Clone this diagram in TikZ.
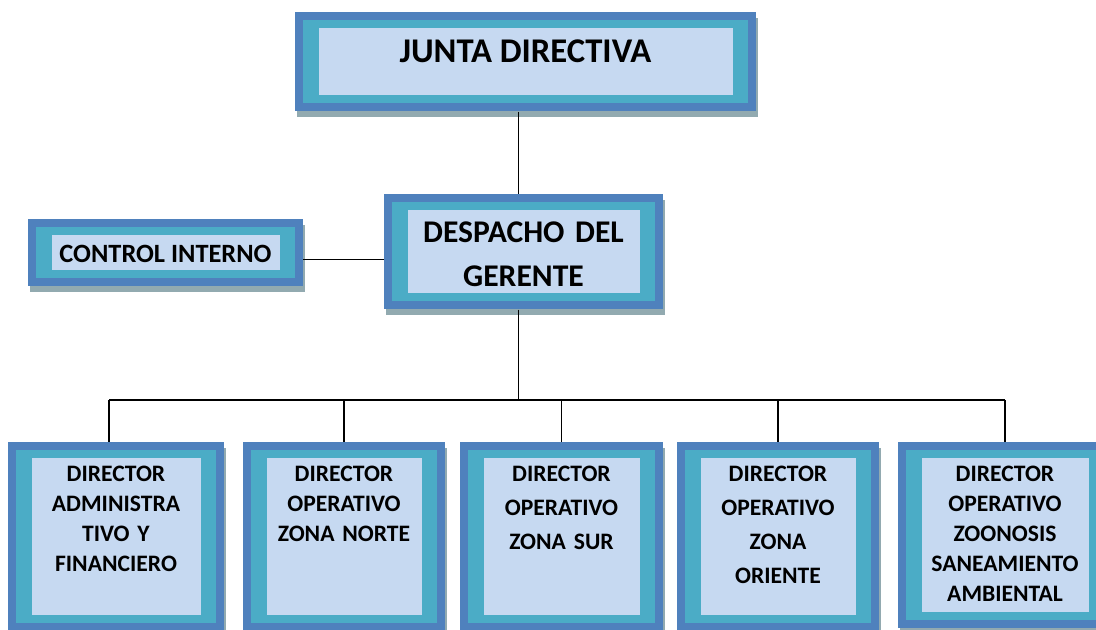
\documentclass[tikz,border=0pt]{standalone}
\usepackage{fontspec}
\setmainfont{Carlito}
\usetikzlibrary{calc,shadows}
\definecolor{frameblue}{RGB}{79,129,189}
\definecolor{frameteal}{RGB}{75,172,198}
\definecolor{boxfill}{RGB}{198,217,241}
\definecolor{shadowgrey}{RGB}{146,170,176}
\tikzset{
    orgbox/.style={fill=frameblue, inner sep=0pt, align=center, anchor=north,
        drop shadow={shadow xshift=1.5pt, shadow yshift=-4.5pt, opacity=1, fill=shadowgrey},
        path picture={
            \fill[frameteal] ($(path picture bounding box.north west)+(8,8)$)
                rectangle ($(path picture bounding box.south east)+(-8,-8)$);
            \fill[boxfill] ($(path picture bounding box.north west)+(23.5,16)$)
                rectangle ($(path picture bounding box.south east)+(-23.5,-16)$);
        }},
    topfont/.style={font=\bfseries\fontsize{26pt}{31pt}\selectfont},
    midfont/.style={font=\bfseries\fontsize{23.7pt}{33pt}\selectfont},
    ctrlfont/.style={font=\bfseries\fontsize{19.8pt}{24pt}\selectfont},
    dirfont/.style={font=\bfseries\fontsize{17.7pt}{22.5pt}\selectfont},
    dirwide/.style={font=\bfseries\fontsize{17.7pt}{25.5pt}\selectfont},
    director/.style={orgbox, dirfont, text width=135pt, text height=29.25pt, text depth=112.5pt},
    link/.style={draw=black, line width=1.3pt},
}

\begin{document}
\begin{tikzpicture}[x=0.75pt, y=-0.75pt]
\path[use as bounding box, clip] (0,0) rectangle (1096,630);
\fill[white] (0,0) rectangle (1096,630);
% upper levels
\node[orgbox, topfont, minimum width=345.75pt, text height=37.5pt, text depth=36.75pt] (junta) at (525.5,12) {JUNTA DIRECTIVA};
\node[orgbox, midfont, minimum width=209.25pt, text width=180pt, text height=36pt, text depth=50.25pt] (despacho) at (523.5,194) {DESPACHO DEL\\GERENTE};
\node[orgbox, ctrlfont, minimum width=206.25pt, text height=32.25pt, text depth=18pt] (control) at (165.5,219) {CONTROL INTERNO};
% directors
\node[director, minimum width=162pt] (dirA) at (116,442) {DIRECTOR\\ADMINISTRA\\TIVO Y\\FINANCIERO};
\node[director, minimum width=151.5pt] (dirN) at (344,442) {DIRECTOR\\OPERATIVO\\ZONA NORTE};
\node[director, dirwide, minimum width=152.25pt] (dirS) at (561.5,442) {DIRECTOR\\OPERATIVO\\ZONA SUR};
\node[director, dirwide, minimum width=151.5pt] (dirO) at (778,442) {DIRECTOR\\OPERATIVO\\ZONA\\ORIENTE};
\node[director, minimum width=160.5pt, text depth=110.25pt] (dirZ) at (1005,442) {DIRECTOR\\OPERATIVO\\ZOONOSIS\\SANEAMIENTO\\AMBIENTAL};
% connectors
\coordinate (trunk) at (518.5,400);
\coordinate (busL) at (109,400);
\coordinate (busR) at (dirZ.north |- trunk);
\draw[link] (junta.south -| trunk) -- (despacho.north -| trunk);
\draw[link] ([yshift=-5pt]control.east) -- ([yshift=-5pt]control.east -| despacho.west);
\draw[link] (despacho.south -| trunk) -- (trunk);
\draw[link] (busL) -- (busR);
\draw[link] (busL) -- (dirA.north -| busL);
\draw[link] (dirN.north) -- (dirN.north |- trunk);
\draw[link] (dirS.north) -- (dirS.north |- trunk);
\draw[link] (dirO.north) -- (dirO.north |- trunk);
\draw[link] (busR) -- (dirZ.north);
\end{tikzpicture}
\end{document}
